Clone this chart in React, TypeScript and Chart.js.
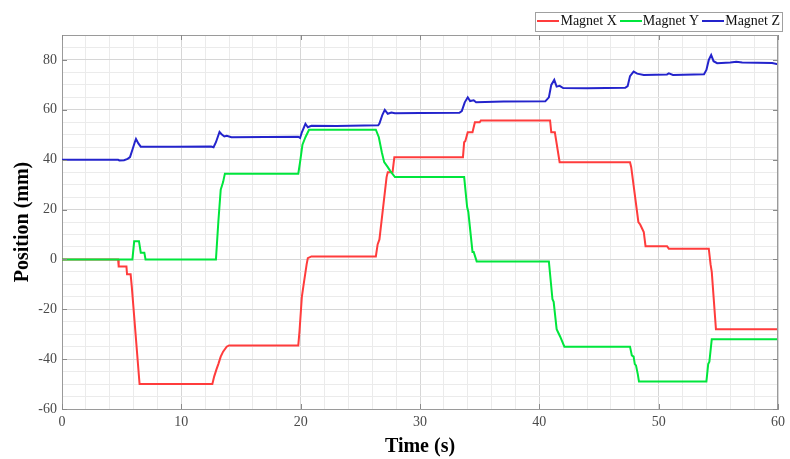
import React, { useEffect, useRef } from "react";
import { Chart, registerables } from "chart.js";

Chart.register(...registerables);

// Magnet X (red)
const xTimes = [0, 4.7, 4.75, 5.4, 5.45, 5.75, 5.85, 6.5, 12.6, 12.75, 12.95, 13.1, 13.3, 13.5, 13.8, 14.0, 19.8, 19.9, 20.1, 20.25, 20.5, 20.6, 20.9, 26.3, 26.45, 26.6, 27.2, 27.3, 27.7, 27.85, 33.6, 33.7, 33.8, 34.0, 34.4, 34.6, 35.0, 35.1, 40.9, 41.0, 41.3, 41.7, 47.6, 47.7, 48.3, 48.45, 48.6, 48.75, 48.9, 50.7, 50.85, 54.2, 54.35, 54.45, 54.8, 60];
const xValues = [0, 0, -2.8, -2.8, -6, -6, -11, -50, -50, -47, -44, -42, -39, -37, -35, -34.5, -34.5, -29, -15, -10, -2, 0.5, 1.2, 1.2, 6, 8, 33, 35, 35, 41, 41, 47, 47.5, 51, 51, 55, 55, 55.7, 55.7, 51, 51, 39, 39, 37, 15, 14, 12.5, 11, 5.3, 5.3, 4.3, 4.3, -2, -5, -28, -28];

// Magnet Y (green)
const yTimes = [0, 5.9, 6.05, 6.45, 6.6, 6.9, 7.0, 12.9, 13.1, 13.3, 13.5, 13.65, 19.8, 19.95, 20.15, 20.4, 20.7, 26.3, 26.55, 26.8, 27.0, 27.3, 27.5, 27.9, 33.7, 33.95, 34.05, 34.4, 34.5, 34.75, 40.8, 41.1, 41.2, 41.45, 41.55, 41.75, 42.1, 47.6, 47.75, 47.9, 48.0, 48.1, 48.25, 48.35, 54.0, 54.15, 54.25, 54.45, 60];
const yValues = [0, 0, 7.3, 7.3, 2.7, 2.7, 0, 0, 15, 28, 31, 34.4, 34.4, 39, 46, 49, 52, 52, 49, 43, 39, 37, 35.5, 33, 33, 21, 19, 3, 3, -0.8, -0.8, -16, -17, -28, -29, -31, -35, -35, -38.5, -39, -42, -42.5, -46, -49, -49, -42, -41, -32, -32];

// Magnet Z (blue)
const zTimes = [0, 4.7, 4.8, 5.2, 5.5, 5.7, 5.9, 6.1, 6.2, 6.4, 6.6, 9.5, 12.5, 12.7, 12.9, 13.2, 13.35, 13.6, 13.8, 14.2, 17, 19.8, 19.95, 20.1, 20.4, 20.6, 20.9, 23, 26.5, 26.6, 26.85, 27.05, 27.3, 27.6, 27.9, 30, 33.3, 33.5, 33.75, 34.0, 34.2, 34.5, 34.7, 37, 40.5, 40.8, 41.0, 41.25, 41.45, 41.7, 42, 44, 47.2, 47.4, 47.6, 47.9, 48.2, 48.75, 50.7, 50.85, 51.2, 53.8, 54.0, 54.2, 54.4, 54.6, 54.9, 56, 56.5, 57, 59.5, 60];
const zValues = [40, 40, 39.7, 39.8, 40.3, 41, 44, 47, 48.3, 46.5, 45.2, 45.2, 45.3, 45, 47, 51.1, 50.3, 49.3, 49.6, 49, 49.1, 49.2, 48.7, 51, 54.4, 53, 53.6, 53.5, 53.8, 54.5, 58, 60, 58.4, 58.9, 58.6, 58.7, 58.8, 59.5, 63, 65, 63.5, 63.8, 63, 63.3, 63.4, 65, 70, 72, 69.3, 69.6, 68.7, 68.6, 68.8, 69.5, 73.5, 75.3, 74.5, 74, 74.2, 74.6, 74, 74.3, 76, 80, 82, 79.5, 78.7, 79, 79.3, 79, 78.8, 78.3];

const seriesNames = ["Magnet X", "Magnet Y", "Magnet Z"];
const seriesColors = ["#ff3c3c", "#00e63c", "#2424cc"];

const xTickLabels = [0, 10, 20, 30, 40, 50, 60];
const yTickLabels = [-60, -40, -20, 0, 20, 40, 60, 80];

const FONT = '"Liberation Serif", "Times New Roman", serif';

function pts(ts: number[], vs: number[]) {
  return ts.map((t, i) => ({ x: t, y: vs[i] }));
}

function lineSwatch(color: string) {
  const c = document.createElement("canvas");
  c.width = 22;
  c.height = 2;
  const g = c.getContext("2d");
  if (g) {
    g.fillStyle = color;
    g.fillRect(0, 0, 22, 2);
  }
  return c;
}

const framePlugin = {
  id: "frame",
  afterLayout(chart: any) {
    const lg = chart.legend;
    if (lg) {
      lg.left += 6;
      lg.right += 6;
      lg.top += 3;
      lg.bottom += 3;
    }
  },
  afterDraw(chart: any) {
    const { ctx, chartArea } = chart;
    const { left, right, top, bottom } = chartArea;
    ctx.save();
    ctx.strokeStyle = "#9a9a9a";
    ctx.lineWidth = 1;
    ctx.beginPath();
    ctx.moveTo(left, top + 0.5);
    ctx.lineTo(right, top + 0.5);
    ctx.moveTo(right - 0.5, top);
    ctx.lineTo(right - 0.5, bottom);
    ctx.stroke();
    // inward tick marks
    const xs = chart.scales.x;
    const ys = chart.scales.y;
    const L = 5;
    ctx.strokeStyle = "#8a8a8a";
    ctx.beginPath();
    xTickLabels.forEach((v) => {
      const px = Math.round(xs.getPixelForValue(v)) + 0.5;
      ctx.moveTo(px, bottom);
      ctx.lineTo(px, bottom - L);
      ctx.moveTo(px, top);
      ctx.lineTo(px, top + L);
    });
    yTickLabels.forEach((v) => {
      const py = Math.round(ys.getPixelForValue(v)) + 0.5;
      ctx.moveTo(left, py);
      ctx.lineTo(left + L, py);
      ctx.moveTo(right, py);
      ctx.lineTo(right - L, py);
    });
    ctx.stroke();
    // legend box
    const hb = chart.legend && chart.legend.legendHitBoxes;
    if (hb && hb.length) {
      const first = hb[0];
      const last = hb[hb.length - 1];
      const x0 = Math.round(first.left - 8) + 0.5;
      const x1 = Math.round(last.left + last.width + 2) + 0.5;
      const y0 = Math.round(first.top - 2) + 0.5;
      const y1 = Math.round(first.top + first.height + 3) + 0.5;
      ctx.strokeStyle = "#a0a0a0";
      ctx.strokeRect(x0, y0, x1 - x0, y1 - y0);
    }
    ctx.restore();
  },
};

export default function App() {
  const ref = useRef<HTMLCanvasElement | null>(null);
  useEffect(() => {
    document.body.style.margin = "0";
    if (!ref.current) return;
    const orders = [3, 2, 1];
    const datasets = [
      pts(xTimes, xValues),
      pts(yTimes, yValues),
      pts(zTimes, zValues),
    ].map((d, i) => ({
      label: seriesNames[i],
      data: d,
      borderColor: seriesColors[i],
      backgroundColor: seriesColors[i],
      borderWidth: 2,
      pointRadius: 0,
      pointStyle: lineSwatch(seriesColors[i]),
      tension: 0,
      fill: false,
      order: orders[i],
    }));
    const gridColor = (major: number) => (c: any) => {
      const v = c.tick ? c.tick.value : 0;
      return Math.abs(v % major) < 1e-9 ? "#d6d6d6" : "#ebebeb";
    };
    const chart = new Chart(ref.current, {
      type: "line",
      data: { datasets },
      plugins: [framePlugin],
      options: {
        animation: false,
        responsive: false,
        layout: { padding: { left: 0, right: 7, top: 2, bottom: 0 } },
        plugins: {
          tooltip: { enabled: false },
          legend: {
            position: "top",
            align: "end",
            labels: {
              usePointStyle: true,
              pointStyleWidth: 10,
              padding: 9,
              color: "#111",
              font: { family: FONT, size: 14 },
              sort: (a: any, b: any) => a.datasetIndex - b.datasetIndex,
            },
          },
        },
        scales: {
          x: {
            type: "linear",
            min: 0,
            max: 60,
            afterFit: (s: any) => {
              s.height = 50;
            },
            ticks: {
              stepSize: 2,
              autoSkip: false,
              maxRotation: 0,
              padding: 5,
              color: "#4a4a4a",
              font: { family: FONT, size: 14 },
              callback: (v: any) => (Number(v) % 10 === 0 ? String(v) : ""),
            },
            grid: { color: gridColor(10), drawTicks: false, lineWidth: 1 },
            border: { display: true, color: "#9a9a9a" },
            title: {
              display: true,
              text: "Time (s)",
              color: "#000",
              font: { family: FONT, size: 20, weight: "bold" },
              padding: { top: 0, bottom: 0 },
            },
          },
          y: {
            min: -60,
            max: 90,
            afterFit: (s: any) => {
              s.width = 62;
            },
            ticks: {
              stepSize: 5,
              autoSkip: false,
              padding: 5,
              color: "#4a4a4a",
              font: { family: FONT, size: 14 },
              callback: (v: any) => (Number(v) % 20 === 0 ? String(v) : ""),
            },
            grid: { color: gridColor(20), drawTicks: false, lineWidth: 1 },
            border: { display: true, color: "#9a9a9a" },
            title: {
              display: true,
              text: "Position (mm)",
              color: "#000",
              font: { family: FONT, size: 20, weight: "bold" },
              padding: { top: 11, bottom: 0 },
            },
          },
        },
      },
    } as any);
    return () => chart.destroy();
  }, []);
  return (
    <div style={{ position: "absolute", left: 0, top: 0, width: 790, height: 459 }}>
      <canvas ref={ref} width={790} height={459} />
    </div>
  );
}
